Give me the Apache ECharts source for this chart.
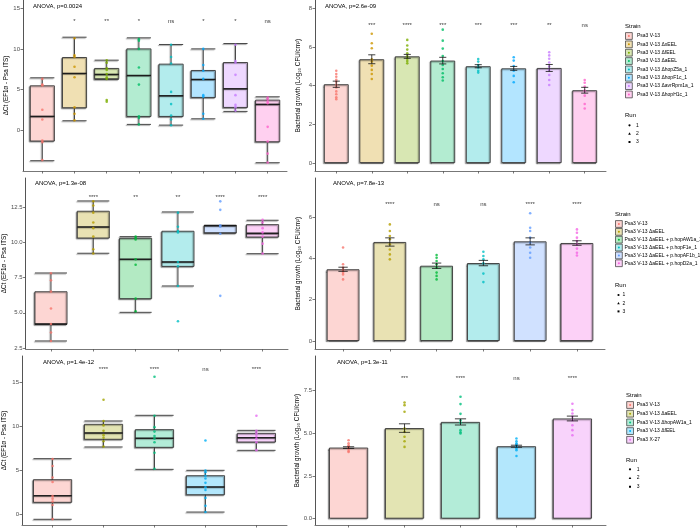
<!DOCTYPE html>
<html><head><meta charset="utf-8">
<script src="https://cdn.jsdelivr.net/npm/echarts@6/dist/echarts.min.js"></script>
<style>html,body{margin:0;padding:0;background:#fff}#c{width:700px;height:529px}</style>
</head><body><div id="c"></div>
<script>
// ================= DATA =================
const strainsA = ['Psa3 V-13','Psa3 V-13 ΔxEEL','Psa3 V-13 ΔfEEL','Psa3 V-13 ΔaEEL','Psa3 V-13 ΔhopZ5a_1','Psa3 V-13 ΔhopF1c_1','Psa3 V-13 ΔavrRpm1a_1','Psa3 V-13 ΔhopH1c_1'];
const strainsC = ['Psa3 V-13','Psa3 V-13 ΔaEEL','Psa3 V-13 ΔaEEL + p.hopAW1a_1','Psa3 V-13 ΔaEEL + p.hopF1e_1','Psa3 V-13 ΔaEEL + p.hopAF1b_1','Psa3 V-13 ΔaEEL + p.hopD2a_1'];
const strainsE = ['Psa3 V-13','Psa3 V-13 ΔaEEL','Psa3 V-13 ΔhopAW1a_1','Psa3 V-13 ΔfEEL','Psa3 X-27'];
const runs = ['1','2','3'];

const titleA = 'ANOVA, p=0.0024';
const titleB = 'ANOVA, p=2.6e-09';
const titleC = 'ANOVA, p=1.3e-08';
const titleD = 'ANOVA, p=7.8e-13';
const titleE = 'ANOVA, p=1.4e-12';
const titleF = 'ANOVA, p=1.3e-11';
const yNameCt = 'ΔCt (EF1α - Psa ITS)';
const yNameGrowth = 'Bacterial growth (Log₁₀ CFU/cm²)';

const ticksA = [0,5,10,15];
const ticksB = [0,2,4,6,8];
const ticksC = [2.5,5,7.5,10,12.5];
const ticksD = [0,2,4,6];
const ticksE = [0,5,10,15];
const ticksF = [0,2.5,5,7.5];

// box stats: [lower whisker, Q1, median, Q3, upper whisker]
const ctBoxA = [
 [-3.77,-1.35,1.68,5.45,6.44],
 [1.15,2.75,6.97,8.94,11.44],
 [6.25,6.31,6.85,7.59,8.61],
 [0.7,1.68,6.72,10.0,11.36],
 [0.61,1.68,4.22,8.12,10.54],
 [1.39,4.02,6.23,7.34,10.0],
 [2.3,2.79,5.08,8.32,10.66],
 [-4.02,-1.44,3.16,3.69,4.1]
];
const ctPointsA = [
 [6.3,5.6,5.5,2.5,1.3,-1.3,-1.5,-3.7],
 [11.3,9.2,9.0,7.8,6.5,2.8,2.0,1.2],
 [8.6,8.3,7.6,7.4,6.9,6.5,6.3,3.7,3.5],
 [11.2,11.0,10.0,7.7,5.6,1.7,1.5,0.7],
 [10.5,9.0,8.2,4.7,3.2,1.8,1.3,0.6],
 [10.0,8.0,7.3,6.3,4.3,4.1,2.0,1.4],
 [10.5,8.5,8.3,6.8,4.3,3.1,2.8,2.4],
 [4.0,3.8,3.5,3.3,0.4,-1.4,-2.9,-4.0]
];
const ctSigA = ['','*','**','*','ns','*','*','ns'];

const growthMeanB = [4.07,5.36,5.51,5.29,5.0,4.89,4.91,3.76];
const growthSeB = [0.16,0.23,0.1,0.17,0.08,0.1,0.18,0.15];
const growthPointsB = [
 [4.77,4.6,4.46,4.3,4.2,4.05,3.9,3.7,3.55,3.4,3.3],
 [6.68,6.19,5.93,5.36,5.24,5.03,4.81,4.6,4.34],
 [6.36,6.07,5.86,5.67,5.51,5.39,5.27,5.15],
 [6.89,6.32,5.91,5.53,5.27,5.06,4.86,4.64,4.43,4.26],
 [5.37,5.24,5.06,4.93,4.77,4.67],
 [5.46,5.29,5.01,4.77,4.5,4.17],
 [5.72,5.56,5.39,5.19,4.98,4.81,4.55,4.29,4.03],
 [4.29,4.15,3.95,3.74,3.48,3.05,2.82]
];
const growthSigB = ['','***','****','***','***','***','**','ns'];

const ctBoxC = [
 [3.0,4.18,4.2,6.49,7.82],
 [9.22,10.3,11.08,12.2,12.93],
 [5.03,6.0,8.79,10.28,10.4],
 [6.9,8.29,8.6,10.78,12.15],
 [10.66,10.66,11.17,11.2,11.2],
 [9.19,10.37,10.63,11.25,11.56]
];
const ctPointsC = [
 [7.8,7.3,6.5,5.3,4.2,3.6,3.0],
 [12.9,12.6,12.1,11.4,11.0,10.4,9.5,9.2],
 [10.4,10.3,10.2,8.8,8.4,6.0,5.1],
 [12.1,11.1,10.8,10.7,8.6,8.3,6.9,4.4],
 [12.9,12.3,11.2,11.1,10.6,6.2],
 [11.6,11.4,11.0,10.7,10.4,9.9,9.2]
];
const ctSigC = ['','****','**','**','****','****'];

const growthMeanD = [3.47,4.79,3.64,3.77,4.82,4.74];
const growthSeD = [0.1,0.2,0.13,0.13,0.17,0.11];
const growthPointsD = [
 [4.52,3.71,3.55,3.45,3.39,3.3,3.22,2.98],
 [5.64,5.32,5.08,4.92,4.68,4.43,4.19,3.95],
 [4.16,4.03,3.87,3.71,3.55,3.31,3.15,2.98],
 [4.32,4.11,3.95,3.76,3.26,2.85],
 [6.18,5.48,5.32,5.0,4.76,4.52,4.27,4.03],
 [5.4,5.24,5.0,4.84,4.68,4.47,4.27,4.14]
];
const growthSigD = ['','****','ns','ns','****','****'];

const ctBoxE = [
 [-0.52,1.40,2.15,3.96,6.34],
 [7.66,8.53,9.24,10.22,10.6],
 [5.13,7.62,8.64,9.62,11.24],
 [0.3,2.26,3.13,4.41,5.02],
 [7.28,8.22,8.71,9.2,9.54]
];
const ctPointsE = [
 [6.3,5.5,4.2,3.7,2.1,1.8,1.5,1.1,-0.5],
 [13.0,10.6,10.1,9.5,9.0,8.7,8.3,7.7],
 [15.6,11.2,9.9,9.4,8.9,8.6,8.2,7.0,5.2],
 [8.4,5.0,4.8,4.4,4.1,3.6,3.1,2.8,1.9,1.0,0.3],
 [11.2,9.5,9.2,8.9,8.6,8.2,7.3]
];
const ctSigE = ['','****','****','ns','****'];

const growthMeanF = [4.15,5.29,5.65,4.23,5.85];
const growthSeF = [0.05,0.25,0.18,0.06,0.14];
const growthPointsF = [
 [4.58,4.4,4.29,4.2,4.15,4.1,4.09,3.95,3.9],
 [6.78,6.63,6.24,5.27,5.07,4.78,4.52,4.19],
 [7.12,6.69,6.12,5.75,5.6,5.17,5.05,4.97],
 [4.68,4.52,4.4,4.33,4.25,4.19,4.1,4.0,3.66],
 [6.71,6.34,6.14,5.95,5.75,5.46,5.17,4.87]
];
const growthSigF = ['','***','****','ns','****'];

// ================= STYLE =================
const pal8 = ['#F8766D','#CD9600','#7CAE00','#00BE67','#00BFC4','#00A9FF','#C77CFF','#FF61CC'];
const pal6 = ['#F8766D','#B79F00','#00BA38','#00BFC4','#619CFF','#F564E3'];
const pal5 = ['#F8766D','#A3A500','#00BF7D','#00B0F6','#E76BF3'];
const FONT = 'Liberation Sans';
// opaque blend of colour with white (alpha a)
function tint(hex,a){const c=[1,3,5].map(j=>parseInt(hex.slice(j,j+2),16));const m=c.map(v=>Math.round(255*(1-a)+v*a));return `rgb(${m[0]},${m[1]},${m[2]})`;}

const panels = [
 {kind:'box', grid:{left:23,top:0,width:264,height:171}, yMin:-5.04, yMax:16.02, ticks:ticksA, dec:0,
  stats:ctBoxA, points:ctPointsA, sig:ctSigA, sigY:13.4, pal:pal8, title:titleA, tx:33, ty:3, yName:yNameCt, nameGap:8},
 {kind:'bar', grid:{left:315,top:0,width:291,height:171}, yMin:-0.41, yMax:8.42, ticks:ticksB, dec:0,
  mean:growthMeanB, se:growthSeB, points:growthPointsB, sig:growthSigB, sigY:7.12, pal:pal8, title:titleB, tx:325, ty:3, yName:yNameGrowth, nameGap:14},
 {kind:'box', grid:{left:23,top:178,width:265,height:171}, yMin:2.43, yMax:14.557, ticks:ticksC, dec:1,
  stats:ctBoxC, points:ctPointsC, sig:ctSigC, sigY:13.2, pal:pal6, title:titleC, tx:35, ty:180.5, yName:yNameCt, nameGap:16},
 {kind:'bar', grid:{left:315,top:178,width:290,height:171}, yMin:-0.387, yMax:7.886, ticks:ticksD, dec:0,
  mean:growthMeanD, se:growthSeD, points:growthPointsD, sig:growthSigD, sigY:6.6, pal:pal6, title:titleD, tx:333, ty:180.5, yName:yNameGrowth, nameGap:14},
 {kind:'box', grid:{left:22,top:356,width:265,height:169}, yMin:-1.165, yMax:17.95, ticks:ticksE, dec:0,
  stats:ctBoxE, points:ctPointsE, sig:ctSigE, sigY:16.4, pal:pal5, title:titleE, tx:43, ty:359.5, yName:yNameCt, nameGap:15},
 {kind:'bar', grid:{left:315,top:356,width:291,height:169}, yMin:-0.37, yMax:9.5, ticks:ticksF, dec:1,
  mean:growthMeanF, se:growthSeF, points:growthPointsF, sig:growthSigF, sigY:8.2, pal:pal5, title:titleF, tx:337, ty:359.5, yName:yNameGrowth, nameGap:14}
];

const grids=[], xAxes=[], yAxes=[], series=[], titles=[];
const axisColor = '#555';
panels.forEach((p,i)=>{
  const N = p.pal.length;
  const idx = Array.from({length:N},(_,k)=>k+1);
  const unit = p.grid.width/(N+0.2);
  grids.push(Object.assign({containLabel:false}, p.grid));
  xAxes.push({gridIndex:i, type:'value', min:0.4, max:N+0.6,
    axisLine:{show:true,onZero:false,lineStyle:{color:'#777',width:1}},
    axisTick:{show:true,length:2.5,customValues:idx,lineStyle:{color:axisColor,width:0.8}},
    axisLabel:{show:false}, splitLine:{show:false}});
  yAxes.push({gridIndex:i, type:'value', min:p.yMin, max:p.yMax,
    axisLine:{show:true,onZero:false,lineStyle:{color:axisColor,width:1}},
    axisTick:{show:true,length:2.5,customValues:p.ticks,lineStyle:{color:axisColor,width:0.8}},
    axisLabel:{show:true,customValues:p.ticks,fontSize:6,color:'#4d4d4d',margin:3,fontFamily:FONT,
      formatter:v=>Number(v).toFixed(p.dec)},
    splitLine:{show:false},
    name:p.yName, nameLocation:'middle', nameGap:p.nameGap,
    nameTextStyle:{fontSize:6.3,color:'#000',fontFamily:FONT}});
  titles.push({text:p.title,left:p.tx,top:p.ty,padding:0,
    textStyle:{fontSize:6,fontWeight:'normal',color:'#000',fontFamily:FONT}});
  const shadow = {shadowColor:'rgba(0,0,0,0.4)',shadowBlur:1,shadowOffsetX:-1,shadowOffsetY:1};
  if(p.kind==='box'){
    series.push({type:'boxplot', xAxisIndex:i, yAxisIndex:i, silent:true,
      boxWidth:[unit*0.75, unit*0.75],
      data:p.stats.map((s,k)=>({value:[k+1].concat(s),
        itemStyle:Object.assign({color:tint(p.pal[k],0.3),borderColor:'#333',borderWidth:0.9},shadow)}))});
    series.push({type:'scatter', xAxisIndex:i, yAxisIndex:i, silent:true, symbol:'rect',
      symbolSize:[unit*0.75,1.6], itemStyle:{color:'#111'},
      data:p.stats.map((s,k)=>[k+1,s[2]])});
  } else {
    series.push({type:'bar', xAxisIndex:i, yAxisIndex:i, silent:true, barWidth:unit*0.7,
      data:p.mean.map((m,k)=>({value:[k+1,m],
        itemStyle:Object.assign({color:tint(p.pal[k],0.3),borderColor:'#333',borderWidth:0.9},shadow)}))});
  }
  series.push({type:'scatter', xAxisIndex:i, yAxisIndex:i, silent:true, symbolSize:2.6, z:5,
    data:p.points.flatMap((arr,k)=>arr.map(v=>({value:[k+1,v],itemStyle:{color:p.pal[k]}})))});
  if(p.kind==='bar'){
    series.push({type:'custom', xAxisIndex:i, yAxisIndex:i, silent:true, z:6,
      encode:{x:0,y:[1,2]},
      data:p.mean.map((m,k)=>[k+1,m-p.se[k],m+p.se[k]]),
      renderItem:(params,api)=>{
        const x=api.value(0);
        const lo=api.coord([x,api.value(1)]), hi=api.coord([x,api.value(2)]);
        const hw=api.size([0.1,0])[0];
        const st={stroke:'#111',lineWidth:0.8};
        return {type:'group',children:[
          {type:'line',shape:{x1:lo[0],y1:lo[1],x2:hi[0],y2:hi[1]},style:st},
          {type:'line',shape:{x1:lo[0]-hw,y1:lo[1],x2:lo[0]+hw,y2:lo[1]},style:st},
          {type:'line',shape:{x1:hi[0]-hw,y1:hi[1],x2:hi[0]+hw,y2:hi[1]},style:st}]};
      }});
  }
  series.push({type:'scatter', xAxisIndex:i, yAxisIndex:i, silent:true, symbolSize:1, z:7,
    itemStyle:{color:'rgba(0,0,0,0)'},
    label:{show:true,position:'inside',formatter:q=>q.name,fontSize:6,color:'#000',fontFamily:FONT},
    data:p.sig.map((s,k)=>({name:s,value:[k+1,p.sigY]})).filter(d=>d.name!=='')});
});

// legends (graphic)
function legend(cfg, strains, pal){
  const els=[];
  els.push({type:'text',x:cfg.tx0,y:cfg.ty0,style:{text:'Strain',fontSize:6,fontFamily:FONT,fill:'#000',verticalAlign:'middle'}});
  strains.forEach((s,k)=>{
    const cy=cfg.ky0+k*cfg.step;
    els.push({type:'rect',shape:{x:cfg.kx,y:cy-3.4,width:6.8,height:6.8},style:{fill:tint(pal[k],0.3),stroke:'#333',lineWidth:0.7}});
    els.push({type:'circle',shape:{cx:cfg.kx+3.4,cy:cy,r:1},style:{fill:pal[k]}});
    els.push({type:'text',x:cfg.textX,y:cy,style:{text:s,fontSize:5,fontFamily:FONT,fill:'#000',verticalAlign:'middle'}});
  });
  els.push({type:'text',x:cfg.tx0,y:cfg.runY,style:{text:'Run',fontSize:6,fontFamily:FONT,fill:'#000',verticalAlign:'middle'}});
  runs.forEach((r,k)=>{
    const cy=cfg.runY0+k*cfg.runStep, cx=cfg.sx;
    if(k===0) els.push({type:'circle',shape:{cx,cy,r:1.1},style:{fill:'#000'}});
    else if(k===1) els.push({type:'polygon',shape:{points:[[cx,cy-1.3],[cx-1.3,cy+1],[cx+1.3,cy+1]]},style:{fill:'#000'}});
    else els.push({type:'rect',shape:{x:cx-1,y:cy-1,width:2,height:2},style:{fill:'#000'}});
    els.push({type:'text',x:cfg.rtx,y:cy,style:{text:r,fontSize:5,fontFamily:FONT,fill:'#000',verticalAlign:'middle'}});
  });
  return els;
}
const graphics = [].concat(
  legend({tx0:625,ty0:26,kx:625.5,ky0:36,step:8.35,textX:637,runY:115.7,runY0:125.3,runStep:8.35,sx:629.5,rtx:636},strainsA,pal8),
  legend({tx0:615,ty0:214.3,kx:615.5,ky0:224,step:7.85,textX:624.5,runY:285,runY0:295,runStep:8.2,sx:618.5,rtx:622.5},strainsC,pal6),
  legend({tx0:626,ty0:395.7,kx:626.7,ky0:405,step:8.7,textX:636.7,runY:460,runY0:469.3,runStep:8.7,sx:630,rtx:636.7},strainsE,pal5)
);

const chart = echarts.init(document.getElementById('c'),null,{renderer:'canvas'});
chart.setOption({
  animation:false, backgroundColor:'#fff',
  textStyle:{fontFamily:FONT},
  title:titles, grid:grids, xAxis:xAxes, yAxis:yAxes, series:series,
  graphic:{elements:graphics}
});
</script></body></html>
